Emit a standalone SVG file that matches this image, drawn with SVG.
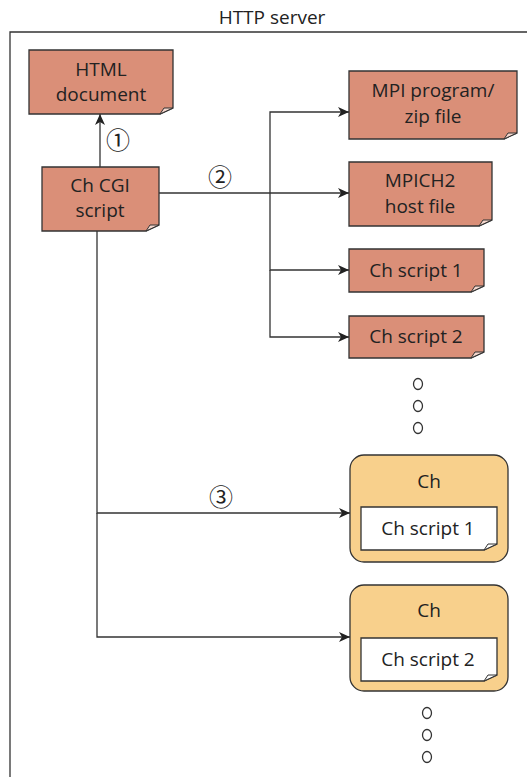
<svg xmlns="http://www.w3.org/2000/svg" width="527" height="777" viewBox="0 0 527 777">
<style>
text{font-family:"Open Sans","Liberation Sans",sans-serif;fill:#222;text-anchor:middle}
.t{font-size:19px}
.doc{fill:#da8f78;stroke:#333;stroke-width:1.3}
.fold{fill:#f4d6cc;stroke:#333;stroke-width:1}
.wdoc{fill:#fff;stroke:#333;stroke-width:1.3}
.ch{fill:#f8d08c;stroke:#333;stroke-width:1.3}
.ln{fill:none;stroke:#333;stroke-width:1.3}
.dot{fill:#fff;stroke:#333;stroke-width:1.3}
.num{font-family:"Noto Sans CJK JP","DejaVu Sans",sans-serif;font-size:24px}
</style>
<defs>
<marker id="ah" markerWidth="12" markerHeight="10" refX="11" refY="5" orient="auto" markerUnits="userSpaceOnUse">
<path d="M0,0 L11,5 L0,10 L3,5 Z" fill="#222"/>
</marker>
</defs>
<text x="272" y="24" class="t">HTTP server</text>
<path class="ln" d="M10,777 V32 H527" stroke="#555"/>

<g id="connectors">
<path class="ln" d="M100,167 V114" marker-end="url(#ah)"/>
<path class="ln" d="M159,193 H349" marker-end="url(#ah)"/>
<path class="ln" d="M270,193 V112 H349" marker-end="url(#ah)"/>
<path class="ln" d="M270,193 V270 H349" marker-end="url(#ah)"/>
<path class="ln" d="M270,270 V337 H349" marker-end="url(#ah)"/>
<path class="ln" d="M97,231 V513 H350" marker-end="url(#ah)"/>
<path class="ln" d="M97,513 V637 H350" marker-end="url(#ah)"/>
<text x="118" y="149" class="num">①</text>
<text x="220" y="186" class="num">②</text>
<text x="221" y="506" class="num">③</text>
</g>

<g id="html">
<path class="doc" d="M29,50 H173 V108 L160,114 H29 Z"/>
<path class="fold" d="M160,114 L164,108 H173 Z"/>
<text x="101" y="76" class="t">HTML</text>
<text x="101" y="101" class="t">document</text>
</g>

<g id="cgi">
<path class="doc" d="M42,167 H159 V225 L146,231 H42 Z"/>
<path class="fold" d="M146,231 L150,225 H159 Z"/>
<text x="100" y="192" class="t">Ch CGI</text>
<text x="100" y="217" class="t">script</text>
</g>

<g id="mpi">
<path class="doc" d="M349,71 H517 V133 L504,139 H349 Z"/>
<path class="fold" d="M504,139 L508,133 H517 Z"/>
<text x="433" y="97" class="t">MPI program/</text>
<text x="433" y="123" class="t">zip file</text>
</g>

<g id="mpich">
<path class="doc" d="M349,162 H492 V220 L479,226 H349 Z"/>
<path class="fold" d="M479,226 L483,220 H492 Z"/>
<text x="420" y="187" class="t">MPICH2</text>
<text x="420" y="213" class="t">host file</text>
</g>

<g id="script1">
<path class="doc" d="M349,249 H484 V286 L471,292 H349 Z"/>
<path class="fold" d="M471,292 L475,286 H484 Z"/>
<text x="416" y="277" class="t">Ch script 1</text>
</g>

<g id="script2">
<path class="doc" d="M349,316 H484 V352 L471,358 H349 Z"/>
<path class="fold" d="M471,358 L475,352 H484 Z"/>
<text x="416" y="343" class="t">Ch script 2</text>
</g>

<g id="dots1">
<ellipse class="dot" cx="418" cy="384" rx="4.5" ry="5.5"/>
<ellipse class="dot" cx="418" cy="406" rx="4.5" ry="5.5"/>
<ellipse class="dot" cx="418" cy="428" rx="4.5" ry="5.5"/>
</g>

<g id="ch1">
<rect class="ch" x="350" y="455" width="158" height="107" rx="14"/>
<text x="429" y="488" class="t">Ch</text>
<path class="wdoc" d="M361,507 H497 V544 L484,550 H361 Z"/>
<path class="fold" d="M484,550 L488,544 H497 Z" style="fill:#fff"/>
<text x="428" y="535" class="t">Ch script 1</text>
</g>

<g id="ch2">
<rect class="ch" x="350" y="585" width="158" height="106" rx="14"/>
<text x="429" y="617" class="t">Ch</text>
<path class="wdoc" d="M361,638 H497 V675 L484,681 H361 Z"/>
<path class="fold" d="M484,681 L488,675 H497 Z" style="fill:#fff"/>
<text x="428" y="666" class="t">Ch script 2</text>
</g>

<g id="dots2">
<ellipse class="dot" cx="427" cy="713" rx="4.5" ry="5.5"/>
<ellipse class="dot" cx="427" cy="735" rx="4.5" ry="5.5"/>
<ellipse class="dot" cx="427" cy="757" rx="4.5" ry="5.5"/>
</g>
</svg>
